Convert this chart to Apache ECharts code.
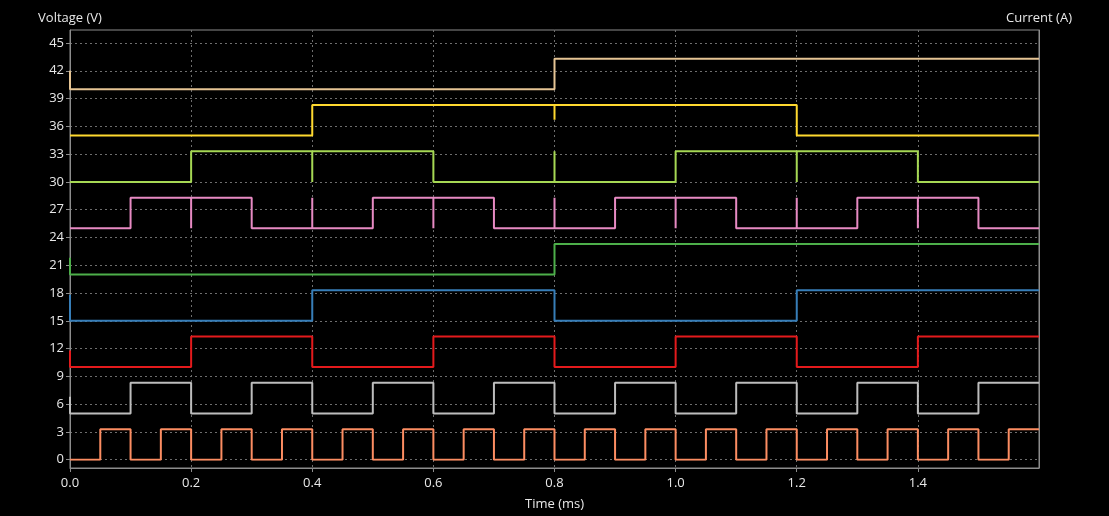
<!DOCTYPE html>
<html>
<head>
<meta charset="utf-8">
<script src="https://cdn.jsdelivr.net/npm/echarts@6/dist/echarts.min.js"></script>
<style>
  html, body { margin: 0; padding: 0; background: #000; }
  #chart { width: 1109px; height: 516px; }
</style>
</head>
<body>
<div id="chart"></div>
<script>
// Step data: each [time (ms), level] holds until the next point
const bit0 = [[0,0],[0.05,3.3],[0.1,0],[0.15,3.3],[0.2,0],[0.25,3.3],[0.3,0],[0.35,3.3],[0.4,0],[0.45,3.3],[0.5,0],[0.55,3.3],[0.6,0],[0.65,3.3],[0.7,0],[0.75,3.3],[0.8,0],[0.85,3.3],[0.9,0],[0.95,3.3],[1.0,0],[1.05,3.3],[1.1,0],[1.15,3.3],[1.2,0],[1.25,3.3],[1.3,0],[1.35,3.3],[1.4,0],[1.45,3.3],[1.5,0],[1.55,3.3],[1.6,3.3]];
const bit1 = [[0,6.8],[0,5],[0.1,8.3],[0.2,5],[0.3,8.3],[0.4,5],[0.5,8.3],[0.6,5],[0.7,8.3],[0.8,5],[0.9,8.3],[1.0,5],[1.1,8.3],[1.2,5],[1.3,8.3],[1.4,5],[1.5,8.3],[1.6,8.3]];
const bit2 = [[0,11.8],[0,10],[0.2,13.3],[0.4,10],[0.6,13.3],[0.8,10],[1.0,13.3],[1.2,10],[1.4,13.3],[1.6,13.3]];
const bit3 = [[0,17.8],[0,15],[0.4,18.3],[0.8,15],[1.2,18.3],[1.6,18.3]];
const bit4 = [[0,21.8],[0,20],[0.8,23.3],[1.6,23.3]];
const gray0 = [[0,25],[0.1,28.3],[0.2,25],[0.2,28.3],[0.3,25],[0.4,28.3],[0.4,25],[0.5,28.3],[0.6,25],[0.6,28.3],[0.7,25],[0.8,28.3],[0.8,25],[0.9,28.3],[1.0,25],[1.0,28.3],[1.1,25],[1.2,28.3],[1.2,25],[1.3,28.3],[1.4,25],[1.4,28.3],[1.5,25],[1.6,25]];
const gray1 = [[0,30],[0.2,33.3],[0.4,30],[0.4,33.3],[0.6,30],[0.8,33.3],[0.8,30],[1.0,33.3],[1.2,30],[1.2,33.3],[1.4,30],[1.6,30]];
const gray2 = [[0,35],[0.4,38.3],[0.8,36.7],[0.8,38.3],[1.2,35],[1.6,35]];
const gray3 = [[0,42],[0,40],[0.8,43.3],[1.6,43.3]];

const seriesData = [bit0, bit1, bit2, bit3, bit4, gray0, gray1, gray2, gray3];
const seriesColors = ['#fc8d62', '#bdbdbd', '#e41a1c', '#377eb8', '#4daf4a', '#e78ac3', '#a6d854', '#ffd92f', '#e5c494'];

const yTickMin = 0, yTickMax = 45, yTickStep = 3;
const xMin = 0, xMax = 1.6, xStep = 0.2;

const FONT = 'Open Sans';
const axisGray = '#8c8c8c';
const gridDash = '#6e6e6e';
const textColor = '#e8e8e8';

const chart = echarts.init(document.getElementById('chart'), null, { renderer: 'canvas' });
chart.setOption({
  backgroundColor: '#000',
  animation: false,
  textStyle: { fontFamily: FONT },
  grid: [
    { left: 70, right: 70, top: 30, bottom: 45, show: true, borderColor: axisGray, borderWidth: 1, backgroundColor: 'transparent' },
    { left: 70, right: 70, top: 43, bottom: 56.3 }
  ],
  xAxis: [
    {
      gridIndex: 0, type: 'value', min: xMin, max: xMax, interval: xStep,
      name: 'Time (ms)', nameLocation: 'middle', nameGap: 30,
      nameTextStyle: { color: textColor, fontSize: 13, fontFamily: FONT },
      axisLine: { show: true, lineStyle: { color: axisGray, width: 1 } },
      axisTick: { show: true, length: 4, lineStyle: { color: axisGray } },
      axisLabel: { color: textColor, fontSize: 13, fontFamily: FONT, margin: 9, showMaxLabel: false,
        formatter: v => (v > 1.5 ? '' : v.toFixed(1)) },
      splitLine: { show: true, lineStyle: { color: gridDash, type: [2, 3], width: 1 } }
    },
    {
      gridIndex: 1, type: 'value', min: xMin, max: xMax, show: false
    }
  ],
  yAxis: [
    {
      gridIndex: 0, type: 'value', position: 'left', min: 0, max: 1,
      name: 'Voltage (V)', nameLocation: 'end', nameGap: 5,
      nameTextStyle: { color: textColor, fontSize: 13, fontFamily: FONT },
      axisLine: { show: true, lineStyle: { color: axisGray } },
      axisTick: { show: false }, axisLabel: { show: false }, splitLine: { show: false }
    },
    {
      gridIndex: 0, type: 'value', position: 'right', min: 0, max: 1,
      name: 'Current (A)', nameLocation: 'end', nameGap: 5,
      nameTextStyle: { color: textColor, fontSize: 13, fontFamily: FONT },
      axisLine: { show: true, lineStyle: { color: axisGray } },
      axisTick: { show: false }, axisLabel: { show: false }, splitLine: { show: false }
    },
    {
      gridIndex: 1, type: 'value', position: 'left', min: yTickMin, max: yTickMax, interval: yTickStep,
      axisLine: { show: false },
      axisTick: { show: true, length: 4, lineStyle: { color: axisGray } },
      axisLabel: { color: textColor, fontSize: 13, fontFamily: FONT, margin: 6 },
      splitLine: { show: true, lineStyle: { color: gridDash, type: [2, 3], width: 1 } }
    }
  ],
  series: seriesData.map((d, i) => ({
    type: 'line', xAxisIndex: 1, yAxisIndex: 2, step: 'end',
    data: d, showSymbol: false, symbol: 'none',
    lineStyle: { color: seriesColors[i], width: 2 },
    itemStyle: { color: seriesColors[i] }
  }))
});
</script>
</body>
</html>
